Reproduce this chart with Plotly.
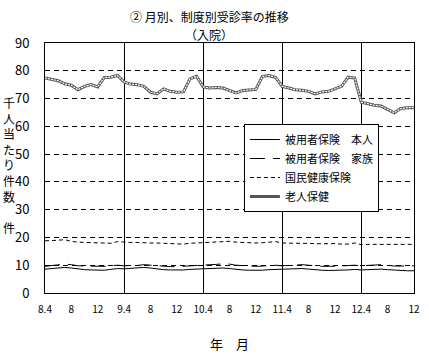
import plotly.graph_objects as go

# Months from H8.4 to H12.12 (index positions)
month_labels = (
    [f"8.{m}" for m in range(4, 13)] + [f"9.{m}" for m in range(1, 4)] +
    [f"9.{m}" for m in range(4, 13)] + [f"10.{m}" for m in range(1, 4)] +
    [f"10.{m}" for m in range(4, 13)] + [f"11.{m}" for m in range(1, 4)] +
    [f"11.{m}" for m in range(4, 13)] + [f"12.{m}" for m in range(1, 4)] +
    [f"12.{m}" for m in range(4, 13)]
)
tick_text = ["8.4", "8", "12", "9.4", "8", "12", "10.4", "8", "12",
             "11.4", "8", "12", "12.4", "8", "12"]
year_starts = ["9.4", "10.4", "11.4", "12.4"]

honnin = [8.6, 8.8, 9.0, 9.2, 9.0, 8.6, 8.4, 8.3, 8.2, 8.2, 8.5, 8.8,
          8.7, 8.8, 9.0, 9.2, 9.0, 8.6, 8.4, 8.3, 8.2, 8.3, 8.5, 8.6,
          8.5, 8.6, 8.8, 9.0, 8.8, 8.5, 8.3, 8.2, 8.1, 8.2, 8.4, 8.5,
          8.4, 8.5, 8.6, 8.8, 8.6, 8.3, 8.2, 8.1, 8.1, 8.2, 8.3, 8.5,
          8.3, 8.4, 8.5, 8.6, 8.4, 8.2, 8.1, 8.0, 8.0]
kazoku = [9.6, 9.8, 10.2, 10.4, 10.2, 9.8, 9.7, 9.6, 9.5, 9.6, 9.8, 10.0,
          9.8, 9.8, 9.9, 10.2, 10.0, 9.7, 9.5, 9.5, 9.5, 9.6, 9.8, 9.9,
          10.0, 10.1, 10.3, 10.5, 10.4, 10.0, 9.8, 9.7, 9.6, 9.7, 9.8, 10.0,
          9.8, 9.9, 10.0, 10.2, 10.0, 9.7, 9.6, 9.6, 9.6, 9.7, 9.9, 10.0,
          9.8, 9.9, 10.0, 10.2, 10.0, 9.7, 9.7, 9.7, 9.8]
kokuho = [18.8, 18.8, 19.0, 19.2, 18.6, 18.3, 18.2, 18.0, 18.0, 17.9, 17.9, 18.5,
          18.3, 18.2, 18.2, 18.0, 18.0, 18.0, 17.9, 17.9, 17.8, 17.6, 17.9, 18.0,
          18.2, 18.3, 18.4, 18.5, 18.6, 18.3, 18.2, 18.0, 18.0, 18.1, 18.3, 18.5,
          18.0, 18.0, 17.9, 17.9, 17.8, 17.8, 17.7, 17.8, 17.8, 17.6, 17.6, 18.0,
          17.4, 17.5, 17.5, 17.5, 17.4, 17.4, 17.4, 17.4, 17.5]
roujin = [77.4, 76.8, 76.4, 75.3, 74.8, 73.2, 74.4, 75.0, 74.2, 77.6, 77.7, 78.3,
          76.0, 75.2, 75.0, 74.4, 72.3, 71.7, 73.5, 72.6, 72.3, 72.4, 77.1, 78.0,
          74.2, 73.8, 74.0, 73.8, 72.9, 72.0, 72.9, 73.1, 73.3, 78.0, 78.3, 77.6,
          74.4, 73.8, 73.2, 73.0, 72.6, 71.7, 72.4, 72.6, 73.5, 74.4, 77.7, 77.4,
          68.7, 68.1, 67.6, 67.3, 66.1, 64.9, 66.4, 66.7, 66.7]

series_names = ["被用者保険　本人", "被用者保険　家族", "国民健康保険", "老人保健"]

x = list(range(len(month_labels)))
tick_vals = list(range(0, len(month_labels), 4))
year_vals = [month_labels.index(s) for s in year_starts]

FONT = "Noto Sans CJK JP, sans-serif"

fig = go.Figure()
fig.add_trace(go.Scatter(x=x, y=honnin, mode="lines", name=series_names[0],
                         line=dict(color="black", width=1)))
fig.add_trace(go.Scatter(x=x, y=kazoku, mode="lines", name=series_names[1],
                         line=dict(color="black", width=1, dash="15px,8px")))
fig.add_trace(go.Scatter(x=x, y=kokuho, mode="lines", name=series_names[2],
                         line=dict(color="black", width=1, dash="4px,3px")))
fig.add_trace(go.Scatter(x=x, y=roujin, mode="lines", name=series_names[3],
                         line=dict(color="#555555", width=3), legendgroup="r"))
fig.add_trace(go.Scatter(x=x, y=roujin, mode="lines", showlegend=False,
                         legendgroup="r", hoverinfo="skip",
                         line=dict(color="white", width=1.2, dash="2px,1px")))
# invisible trace to activate the overlay axis for year separators
fig.add_trace(go.Scatter(x=[x[0], x[-1]], y=[None, None], xaxis="x2",
                         showlegend=False, hoverinfo="skip"))

fig.update_layout(
    width=429, height=356,
    margin=dict(l=45, r=9, t=43, b=63),
    paper_bgcolor="white", plot_bgcolor="white",
    font=dict(family=FONT, color="black"),
    showlegend=True,
    legend=dict(x=0.539, y=0.676, xanchor="left", yanchor="top",
                bgcolor="white", bordercolor="black", borderwidth=1,
                font=dict(size=11, family=FONT), tracegroupgap=0,
                itemwidth=30),
    xaxis=dict(range=[0, len(x) - 1], tickmode="array", tickvals=tick_vals,
               ticktext=tick_text, showgrid=False, zeroline=False,
               showline=True, linecolor="black", linewidth=1, mirror=True,
               ticks="", ticklabelstandoff=7, tickfont=dict(size=10, family=FONT)),
    xaxis2=dict(range=[0, len(x) - 1], overlaying="x", side="bottom",
                tickmode="array", tickvals=year_vals, showticklabels=False,
                showgrid=True, gridcolor="black", gridwidth=1, zeroline=False,
                showline=False, ticks=""),
    yaxis=dict(range=[0, 90], dtick=10, showgrid=True, gridcolor="black",
               gridwidth=1, griddash="5px,4px", zeroline=False,
               showline=True, linecolor="black", linewidth=1, mirror=True,
               ticks="", ticklabelstandoff=12,
               tickfont=dict(size=13, family=FONT)),
)

fig.add_annotation(text="② 月別、制度別受診率の推移", xref="paper", yref="paper",
                   x=(212 - 45) / 375, y=1 + (43 - 17) / 250, showarrow=False,
                   font=dict(size=12, family=FONT), xanchor="center", yanchor="middle")
fig.add_annotation(text="（入院）", xref="paper", yref="paper",
                   x=(212 - 45) / 375, y=1 + (43 - 35) / 250, showarrow=False,
                   font=dict(size=12, family=FONT), xanchor="center", yanchor="middle")
fig.add_annotation(text="年　月", xref="paper", yref="paper",
                   x=(232 - 45) / 375, y=-(343 - 293) / 250, showarrow=False,
                   font=dict(size=13, family=FONT), xanchor="center", yanchor="middle")
fig.add_annotation(text="<br>".join(list("千人当たり件数") + ["", "件"]),
                   xref="paper", yref="paper",
                   x=-(45 - 8) / 375, y=(293 - 165) / 250, showarrow=False,
                   font=dict(size=12, family=FONT), xanchor="center", yanchor="middle")

fig.write_html("out.html")
